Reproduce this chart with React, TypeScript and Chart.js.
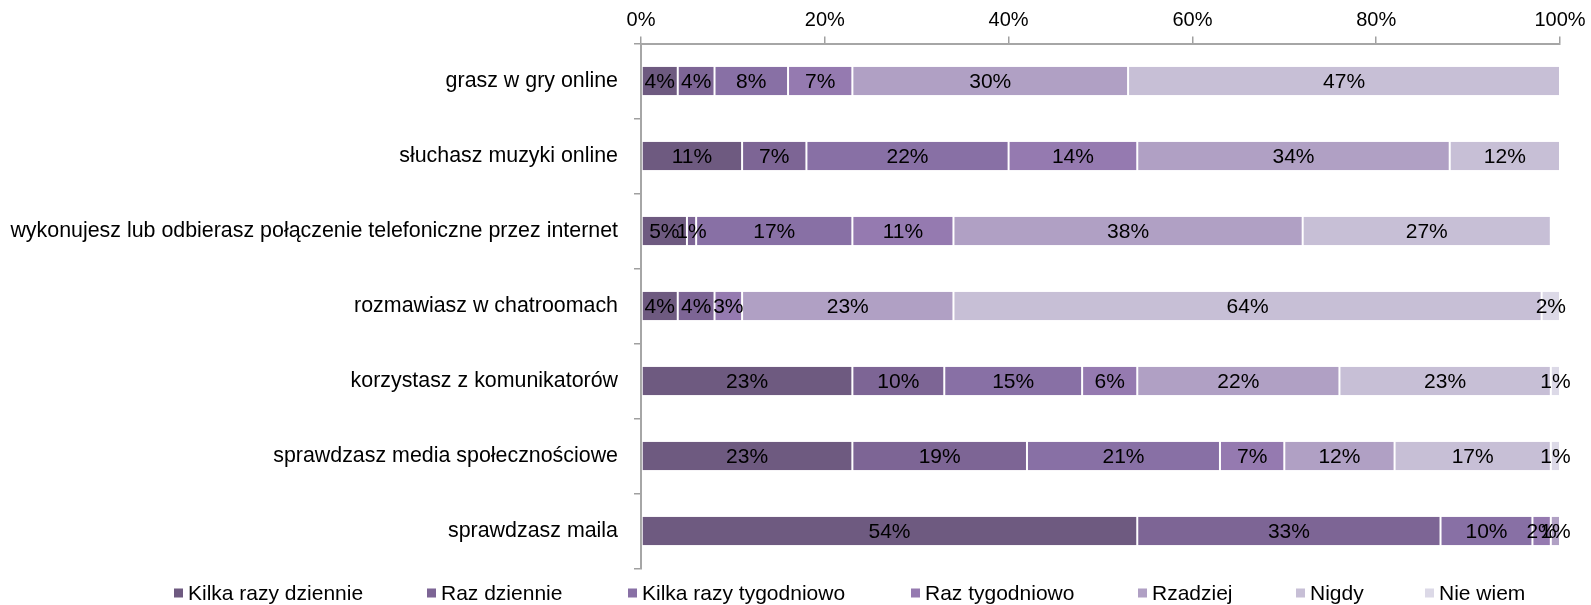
import React, { useEffect, useRef } from 'react';
import { Chart, registerables } from 'chart.js';

Chart.register(...registerables);

const CATEGORIES = [
  'grasz w gry online',
  'słuchasz muzyki online',
  'wykonujesz lub odbierasz połączenie telefoniczne przez internet',
  'rozmawiasz w chatroomach',
  'korzystasz z komunikatorów',
  'sprawdzasz media społecznościowe',
  'sprawdzasz maila',
];

const SERIES_NAMES = [
  'Kilka razy dziennie',
  'Raz dziennie',
  'Kilka razy tygodniowo',
  'Raz tygodniowo',
  'Rzadziej',
  'Nigdy',
  'Nie wiem',
];

const KILKA_RAZY_DZIENNIE = [4, 11, 5, 4, 23, 23, 54];
const RAZ_DZIENNIE = [4, 7, 1, 4, 10, 19, 33];
const KILKA_RAZY_TYGODNIOWO = [8, 22, 17, 0, 15, 21, 10];
const RAZ_TYGODNIOWO = [7, 14, 11, 3, 6, 7, 2];
const RZADZIEJ = [30, 34, 38, 23, 22, 12, 1];
const NIGDY = [47, 12, 27, 64, 23, 17, 0];
const NIE_WIEM = [0, 0, 0, 2, 1, 1, 0];

const SERIES = [
  KILKA_RAZY_DZIENNIE,
  RAZ_DZIENNIE,
  KILKA_RAZY_TYGODNIOWO,
  RAZ_TYGODNIOWO,
  RZADZIEJ,
  NIGDY,
  NIE_WIEM,
];

const COLORS = ['#6e5a80', '#7d6595', '#8870a5', '#957ab0', '#b0a0c4', '#c7bfd6', '#dcd9e7'];

const X_TICKS_STEP = 20;

// layout constants
const FONT = '"Liberation Sans", Arial, Helvetica, sans-serif';
const LEGEND_X = [174, 427, 628, 911, 1138, 1296, 1425];
const LEGEND_Y = 593;

export default function App() {
  const ref = useRef<HTMLCanvasElement>(null);

  useEffect(() => {
    document.body.style.margin = '0';
    const canvas = ref.current as HTMLCanvasElement;

    const datasets = SERIES.map((s, i) => ({
      label: SERIES_NAMES[i],
      data: s,
      backgroundColor: COLORS[i],
      borderColor: '#ffffff',
      borderWidth: { left: 1, right: 1, top: 0, bottom: 0 },
      borderSkipped: false,
      barPercentage: 0.378,
      categoryPercentage: 1,
    }));

    const labelPlugin = {
      id: 'segLabels',
      afterDatasetsDraw(chart: any) {
        const ctx = chart.ctx;
        ctx.save();
        ctx.font = `21px ${FONT}`;
        ctx.fillStyle = '#000000';
        ctx.textAlign = 'center';
        ctx.textBaseline = 'middle';
        chart.data.datasets.forEach((ds: any, di: number) => {
          const meta = chart.getDatasetMeta(di);
          meta.data.forEach((el: any, i: number) => {
            const v = ds.data[i];
            if (!v) return;
            const p = el.getProps(['x', 'y', 'base'], true);
            ctx.fillText(v + '%', (p.x + p.base) / 2, p.y + 1);
          });
        });
        ctx.restore();
      },
    };

    const legendPlugin = {
      id: 'customLegend',
      afterDraw(chart: any) {
        const ctx = chart.ctx;
        ctx.save();
        ctx.font = `21px ${FONT}`;
        ctx.textAlign = 'left';
        ctx.textBaseline = 'middle';
        chart.data.datasets.forEach((ds: any, i: number) => {
          const x = LEGEND_X[i];
          ctx.fillStyle = ds.backgroundColor;
          ctx.fillRect(x, LEGEND_Y - 4.5, 9, 9);
          ctx.fillStyle = '#000000';
          ctx.fillText(ds.label, x + 14, LEGEND_Y + 1);
        });
        ctx.restore();
      },
    };

    const chart = new Chart(canvas, {
      type: 'bar',
      data: { labels: CATEGORIES, datasets: datasets as any },
      options: {
        indexAxis: 'y',
        responsive: false,
        animation: false,
        devicePixelRatio: 1,
        layout: { padding: { left: 0, right: 31, top: 0, bottom: 36.5 } },
        plugins: {
          legend: { display: false },
          tooltip: { enabled: false },
          title: { display: false },
        },
        scales: {
          x: {
            position: 'top',
            stacked: true,
            min: 0,
            max: 100,
            ticks: {
              stepSize: X_TICKS_STEP,
              callback: (v: any) => v + '%',
              font: { family: FONT, size: 20 },
              color: '#000000',
              padding: 4,
              maxRotation: 0,
            },
            grid: {
              drawOnChartArea: false,
              drawTicks: true,
              tickLength: 7,
              color: '#a0a0a0',
              lineWidth: 1.5,
            },
            border: { color: '#a6a6a6', width: 2 },
            afterFit: (s: any) => {
              s.height = 43.5;
            },
            z: 1,
          },
          y: {
            stacked: true,
            ticks: {
              font: { family: FONT, size: 21.4 },
              color: '#000000',
              padding: 16,
            },
            grid: {
              drawOnChartArea: false,
              drawTicks: true,
              tickLength: 7,
              color: '#a0a0a0',
              lineWidth: 1.5,
              offset: true,
            },
            border: { color: '#a6a6a6', width: 2 },
            afterFit: (s: any) => {
              s.width = 641;
            },
            z: 1,
          },
        },
      } as any,
      plugins: [labelPlugin, legendPlugin],
    });

    return () => chart.destroy();
  }, []);

  return <canvas ref={ref} width={1591} height={605} style={{ display: 'block' }} />;
}
